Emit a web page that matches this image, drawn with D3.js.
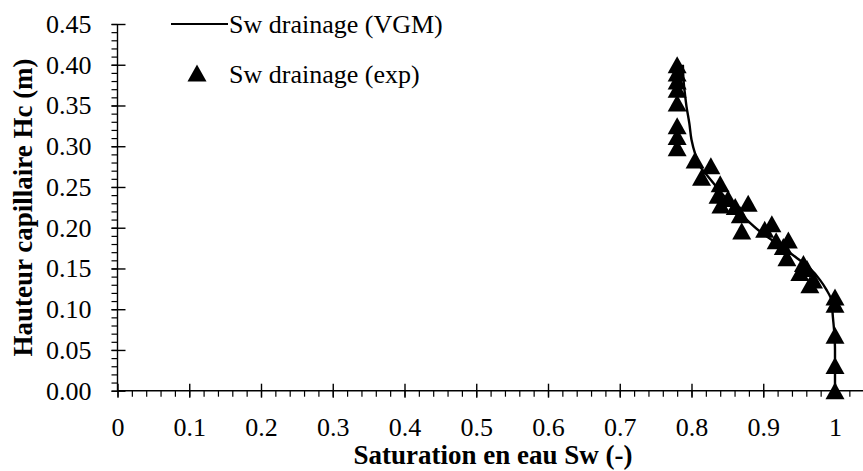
<!DOCTYPE html>
<html>
<head>
<meta charset="utf-8">
<script src="https://cdn.jsdelivr.net/npm/d3@7"></script>
<style>
  html, body { margin: 0; padding: 0; background: #fff; }
  svg { display: block; }
  svg text { font-family: 'Liberation Serif', 'Times New Roman', Times, 'DejaVu Serif', serif !important; fill: #000; }
</style>
</head>
<body>
<svg id="chart" width="863" height="471"></svg>
<script>
// Saturation vs capillary height, drainage branch
const xTickValues = [0, 0.1, 0.2, 0.3, 0.4, 0.5, 0.6, 0.7, 0.8, 0.9, 1];
const yTickValues = [0, 0.05, 0.10, 0.15, 0.20, 0.25, 0.30, 0.35, 0.40, 0.45];

// VGM model curve (Sw, Hc)
const modelSw = [0.788, 0.789, 0.791, 0.793, 0.797, 0.800, 0.805, 0.812, 0.823, 0.835, 0.854, 0.872, 0.896, 0.920, 0.945, 0.965, 0.979, 0.988, 0.995, 0.997, 0.999, 1.0, 1.0];
const modelHc = [0.400, 0.380, 0.363, 0.349, 0.328, 0.308, 0.291, 0.275, 0.263, 0.250, 0.230, 0.214, 0.195, 0.180, 0.164, 0.150, 0.136, 0.124, 0.111, 0.091, 0.071, 0.050, 0.000];

// Experimental drainage points (Sw, Hc)
const expSw = [0.78, 0.78, 0.78, 0.78, 0.78, 0.78, 0.78, 0.78, 0.805, 0.827, 0.814, 0.840, 0.837, 0.851, 0.841, 0.861, 0.879, 0.868, 0.870, 0.902, 0.912, 0.918, 0.935, 0.928, 0.933, 0.956, 0.961, 0.951, 0.970, 0.965, 1.0, 1.0, 1.0, 1.0, 1.0];
const expHc = [0.400, 0.390, 0.380, 0.370, 0.353, 0.325, 0.312, 0.298, 0.283, 0.276, 0.262, 0.254, 0.240, 0.236, 0.228, 0.226, 0.230, 0.216, 0.196, 0.198, 0.205, 0.184, 0.185, 0.177, 0.163, 0.156, 0.150, 0.145, 0.136, 0.130, 0.115, 0.106, 0.068, 0.031, 0.000];

const legendLabels = ["Sw drainage (VGM)", "Sw drainage (exp)"];
const xTitle = "Saturation en eau Sw (-)";
const yTitle = "Hauteur capillaire Hc (m)";

const FONT = "'Liberation Serif', 'Times New Roman', Times, 'DejaVu Serif', serif";

const svg = d3.select("#chart").attr("font-family", FONT);
const x0 = 117.5, yBottom = 390.7, yTop = 24;
const xUnit = 717.5;

const x = d3.scaleLinear().domain([0, 1.04]).range([x0, x0 + 1.04 * xUnit]);
const y = d3.scaleLinear().domain([0, 0.45]).range([yBottom, yTop]);

const axisColor = "#000";

// minor ticks
const xMinor = d3.range(0, 1.0401, 0.02);
const yMinor = d3.range(0, 0.4501, 0.01);

const gx = svg.append("g").attr("transform", `translate(0,${yBottom})`);
gx.call(d3.axisBottom(x).tickValues(xMinor).tickSize(6).tickFormat(""))
  .call(g => g.select(".domain").remove());
gx.selectAll("line").attr("stroke", axisColor).attr("stroke-width", 1.2);

const gxMaj = svg.append("g").attr("transform", `translate(0,${yBottom})`);
gxMaj.call(d3.axisBottom(x).tickValues(xTickValues).tickSize(7).tickPadding(20)
  .tickFormat(d => d === 0 ? "0" : d === 1 ? "1" : d3.format(".1f")(d)));
gxMaj.attr("font-family", FONT);
gxMaj.select(".domain").attr("d", `M${x0},0H${x.range()[1]}`).attr("stroke", axisColor).attr("stroke-width", 1.4);
gxMaj.selectAll(".tick line").attr("y1", -7).attr("y2", 7).attr("stroke", axisColor).attr("stroke-width", 1.4);
gxMaj.selectAll(".tick text").attr("font-size", 26).attr("font-family", FONT).attr("fill", "#000");

const gy = svg.append("g").attr("transform", `translate(${x0},0)`);
gy.call(d3.axisLeft(y).tickValues(yMinor).tickSize(6).tickFormat(""))
  .call(g => g.select(".domain").remove());
gy.selectAll("line").attr("stroke", axisColor).attr("stroke-width", 1.2);

const gyMaj = svg.append("g").attr("transform", `translate(${x0},0)`);
gyMaj.call(d3.axisLeft(y).tickValues(yTickValues).tickSize(6).tickPadding(20).tickFormat(d3.format(".2f")));
gyMaj.attr("font-family", FONT);
gyMaj.select(".domain").attr("d", `M0,${yTop}V${yBottom}`).attr("stroke", axisColor).attr("stroke-width", 1.4);
gyMaj.selectAll(".tick line").attr("x1", -6).attr("x2", 8).attr("stroke", axisColor).attr("stroke-width", 1.4);
gyMaj.selectAll(".tick text").attr("font-size", 26).attr("font-family", FONT).attr("fill", "#000");

// model curve
const modelData = modelSw.map((s, i) => [s, modelHc[i]]);
const line = d3.line().x(d => x(d[0])).y(d => y(d[1])).curve(d3.curveMonotoneY);
svg.append("path").datum(modelData)
  .attr("d", line).attr("fill", "none").attr("stroke", "#000").attr("stroke-width", 2.4);

// experimental markers
const tri = (cx, cy) => `M${cx},${cy - 8.5}L${cx + 9.5},${cy + 8.5}L${cx - 9.5},${cy + 8.5}Z`;
const expData = expSw.map((s, i) => [s, expHc[i]]);
svg.append("g").selectAll("path").data(expData).join("path")
  .attr("d", d => tri(x(d[0]), y(d[1])))
  .attr("fill", "#000");

// legend
const leg = svg.append("g");
leg.append("line").attr("x1", 171).attr("x2", 228).attr("y1", 24).attr("y2", 24)
  .attr("stroke", "#000").attr("stroke-width", 2);
leg.append("text").attr("x", 229).attr("y", 24).attr("dy", "0.33em")
  .attr("font-size", 26).text(legendLabels[0]);
leg.append("path").attr("d", tri(197, 73)).attr("fill", "#000");
leg.append("text").attr("x", 229).attr("y", 74).attr("dy", "0.33em")
  .attr("font-size", 26).text(legendLabels[1]);

// axis titles
svg.append("text").attr("x", 493).attr("y", 464).attr("text-anchor", "middle")
  .attr("font-size", 27).attr("font-weight", "bold").text(xTitle);
svg.append("text").attr("transform", `translate(32,207.5) rotate(-90)`)
  .attr("text-anchor", "middle").attr("font-size", 27).attr("font-weight", "bold").text(yTitle);
</script>
</body>
</html>
